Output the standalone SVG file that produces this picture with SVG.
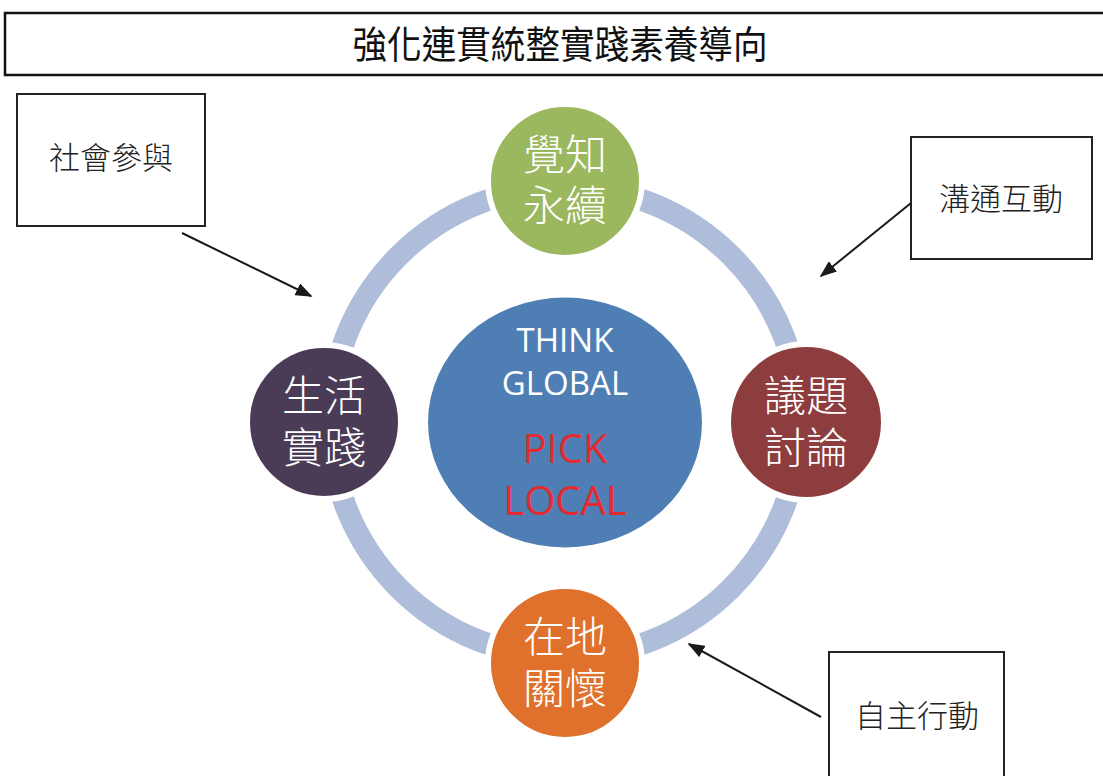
<svg xmlns="http://www.w3.org/2000/svg" width="1103" height="776" viewBox="0 0 1103 776">
<style>
.box{fill:#fff;stroke:#222;stroke-width:2}
.btxt{font-family:"Noto Sans CJK TC","Noto Sans CJK SC",sans-serif;font-size:31px;fill:#222;text-anchor:middle;font-weight:300}
.ctxt{font-family:"Noto Sans CJK TC","Noto Sans CJK SC",sans-serif;font-size:42px;fill:#fff;text-anchor:middle;font-weight:300}
.node{stroke:#fff;stroke-width:6}
.en{font-family:"Open Sans","Liberation Sans",sans-serif;text-anchor:middle}
.conn{stroke:#1a1a1a;stroke-width:2;fill:none;marker-end:url(#ah)}
</style>
<defs>
<marker id="ah" viewBox="0 0 10 10" refX="9" refY="5" markerWidth="17" markerHeight="13" markerUnits="userSpaceOnUse" orient="auto" preserveAspectRatio="none">
<path d="M0,0 L10,5 L0,10 z" fill="#1a1a1a"/>
</marker>
</defs>
<rect width="1103" height="776" fill="#fff"/>
<g id="title">
<rect x="5" y="13" width="1110" height="62" fill="#fff" stroke="#111" stroke-width="2.5"/>
<text x="560" y="58" font-family="'Noto Sans CJK TC','Noto Sans CJK SC',sans-serif" font-size="38" fill="#111" text-anchor="middle" textLength="415" lengthAdjust="spacingAndGlyphs">強化連貫統整實踐素養導向</text>
</g>
<g id="ring">
<circle cx="565" cy="422" r="235" fill="none" stroke="#AEBDD9" stroke-width="22"/>
</g>
<g id="center">
<ellipse cx="565" cy="422.5" rx="137" ry="125" fill="#4F7EB4"/>
<text class="en" x="565" y="352" font-size="33" fill="#fff">THINK</text>
<text class="en" x="565" y="395" font-size="33" fill="#fff">GLOBAL</text>
<text class="en" x="565" y="463" font-size="40" fill="#E52A2F">PICK</text>
<text class="en" x="565" y="515" font-size="40" fill="#E52A2F">LOCAL</text>
</g>
<g id="n-top">
<circle class="node" cx="565" cy="181" r="77" fill="#9BB85F"/>
<text class="ctxt"><tspan x="565" y="170">覺知</tspan><tspan x="565" y="221">永續</tspan></text>
</g>
<g id="n-left">
<circle class="node" cx="324" cy="422" r="77" fill="#4A3B57"/>
<text class="ctxt"><tspan x="324" y="411">生活</tspan><tspan x="324" y="463">實踐</tspan></text>
</g>
<g id="n-right">
<circle class="node" cx="806" cy="422" r="78" fill="#8E3D3F"/>
<text class="ctxt"><tspan x="806" y="411">議題</tspan><tspan x="806" y="463">討論</tspan></text>
</g>
<g id="n-bottom">
<circle class="node" cx="565" cy="663" r="77" fill="#E0712C"/>
<text class="ctxt"><tspan x="565" y="652">在地</tspan><tspan x="565" y="704">關懷</tspan></text>
</g>
<g id="b-social">
<rect class="box" x="17" y="94" width="188" height="132"/>
<text class="btxt" x="111" y="169">社會參與</text>
</g>
<g id="b-comm">
<rect class="box" x="911" y="137" width="181" height="122"/>
<text class="btxt" x="1001" y="210">溝通互動</text>
</g>
<g id="b-auto">
<rect class="box" x="829" y="652" width="175" height="140"/>
<text class="btxt" x="917" y="727">自主行動</text>
</g>
<g id="connectors">
<line class="conn" x1="182" y1="233" x2="311" y2="296"/>
<line class="conn" x1="911" y1="203" x2="821" y2="276"/>
<line class="conn" x1="821" y1="717" x2="689" y2="644"/>
</g>
</svg>
